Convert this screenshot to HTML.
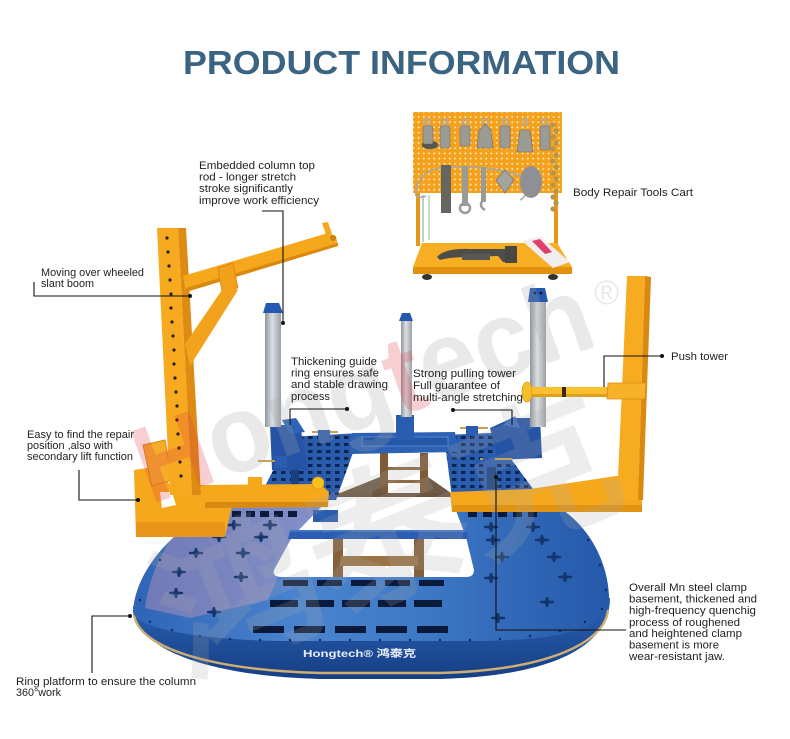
<!DOCTYPE html>
<html><head><meta charset="utf-8"><style>
html,body{margin:0;padding:0;background:#fff;}
svg{display:block}
text{font-family:"Liberation Sans",Arial,sans-serif;}
</style></head><body>
<svg width="790" height="739" viewBox="0 0 790 739" xmlns="http://www.w3.org/2000/svg">
<defs>
 <linearGradient id="col" x1="0" x2="1" y1="0" y2="0">
  <stop offset="0" stop-color="#8f959b"/><stop offset="0.45" stop-color="#dcdfe2"/><stop offset="1" stop-color="#9ca1a6"/>
 </linearGradient>
 <linearGradient id="plat" x1="0" x2="1" y1="0" y2="0">
  <stop offset="0" stop-color="#2f64b6"/><stop offset="0.35" stop-color="#4a84cf"/><stop offset="0.6" stop-color="#3e79c6"/><stop offset="1" stop-color="#2558aa"/>
 </linearGradient>
 <linearGradient id="skirt" x1="0" y1="0" x2="0" y2="1">
  <stop offset="0" stop-color="#2a62b4"/><stop offset="1" stop-color="#163f85"/>
 </linearGradient>
 <pattern id="holes" width="9" height="7" patternUnits="userSpaceOnUse"><rect x="2" y="2" width="4.5" height="3" fill="#0d2350"/></pattern>
 <pattern id="peg" width="5.2" height="5.2" patternUnits="userSpaceOnUse"><circle cx="2.6" cy="2.6" r="0.9" fill="#fff1c8"/></pattern>
 <path id="star" d="M-7,-1 L-2,-1.5 L-1,-5 L1,-5 L2,-1.5 L7,-1 L7,1 L2,1.5 L1,5 L-1,5 L-2,1.5 L-7,1Z" fill="#14356d"/>
</defs>

<!-- Title -->
<text x="183" y="74" font-size="33" font-weight="bold" fill="#3b6483" textLength="437" lengthAdjust="spacingAndGlyphs">PRODUCT INFORMATION</text>

<!-- ===== Tools cart ===== -->
<rect x="416" y="190" width="4" height="56" fill="#e8961a"/>
<rect x="554" y="190" width="4" height="56" fill="#e8961a"/>
<line x1="423" y1="195" x2="423" y2="242" stroke="#9aa" stroke-width="1.2"/>
<line x1="429" y1="195" x2="429" y2="240" stroke="#8b9" stroke-width="1"/>
<rect x="413" y="112" width="149" height="81" fill="#f4a11d"/>
<rect x="413" y="112" width="149" height="81" fill="url(#peg)"/>
<g fill="#9c9b93" stroke="#6d6c66" stroke-width="0.6">
 <circle cx="427" cy="122" r="3" fill="none" stroke="#aaa" stroke-width="1.5"/>
 <ellipse cx="430" cy="145" rx="8" ry="4" fill="#55534e"/>
 <rect x="423" y="126" width="10" height="18" rx="2"/>
 <circle cx="445" cy="122" r="3" fill="none" stroke="#aaa" stroke-width="1.5"/>
 <rect x="440" y="126" width="10" height="22" rx="2"/>
 <circle cx="465" cy="122" r="3" fill="none" stroke="#aaa" stroke-width="1.5"/>
 <rect x="460" y="126" width="10" height="20" rx="2"/>
 <circle cx="485" cy="122" r="3" fill="none" stroke="#aaa" stroke-width="1.5"/>
 <path d="M477,148 L479,130 L485,124 L491,130 L493,148 Z"/>
 <circle cx="505" cy="122" r="3" fill="none" stroke="#aaa" stroke-width="1.5"/>
 <rect x="500" y="126" width="10" height="22" rx="2"/>
 <circle cx="525" cy="122" r="3" fill="none" stroke="#aaa" stroke-width="1.5"/>
 <path d="M517,152 L520,130 L530,130 L533,152 Z"/>
 <circle cx="545" cy="122" r="3" fill="none" stroke="#aaa" stroke-width="1.5"/>
 <rect x="540" y="126" width="10" height="24" rx="2"/>
</g>
<path d="M416,192 Q418,168 450,167 Q500,166 525,178 Q530,195 520,200" fill="none" stroke="#a8a8a8" stroke-width="1.6"/>
<path d="M416,192 Q414,200 426,196" fill="none" stroke="#a8a8a8" stroke-width="1.6"/>
<rect x="441" y="165" width="10" height="48" fill="#66655f"/>
<rect x="462" y="166" width="6" height="40" fill="#9a9a97"/>
<circle cx="465" cy="208" r="5" fill="none" stroke="#9a9a97" stroke-width="2.5"/>
<rect x="481" y="167" width="5" height="35" fill="#9a9a97"/>
<path d="M483,200 q-5,6 2,10" fill="none" stroke="#9a9a97" stroke-width="2.5"/>
<path d="M505,170 L514,180 L505,193 L496,180 Z" fill="#a3a3a0" stroke="#777" stroke-width="0.8"/>
<ellipse cx="531" cy="182" rx="11" ry="16" fill="#8e9095"/>
<g fill="#b2964c">
 <circle cx="553" cy="125" r="2.6"/><circle cx="556" cy="131" r="2.6"/><circle cx="553" cy="137" r="2.6"/><circle cx="556" cy="143" r="2.6"/><circle cx="553" cy="149" r="2.6"/><circle cx="556" cy="155" r="2.6"/><circle cx="553" cy="161" r="2.6"/><circle cx="556" cy="167" r="2.6"/><circle cx="553" cy="173" r="2.6"/><circle cx="556" cy="179" r="2.6"/><circle cx="553" cy="185" r="2.6"/><circle cx="556" cy="191" r="2.6"/><circle cx="553" cy="197" r="2.6"/><circle cx="556" cy="203" r="2.6"/><circle cx="553" cy="209" r="2.6"/>
</g>
<polygon points="422,243 557,243 572,267 413,267" fill="#f7ae22"/>
<rect x="413" y="267" width="159" height="7" fill="#e2900f"/>
<ellipse cx="427" cy="277" rx="5" ry="3" fill="#333"/>
<ellipse cx="553" cy="277" rx="5" ry="3" fill="#333"/>
<path d="M437,257 Q445,248 470,249 L505,249 L510,262 L503,262 L498,256 L470,257 Q450,257 440,260 Z" fill="#4f4d4a"/>
<rect x="462" y="254" width="28" height="6" fill="#5a5855"/>
<rect x="505" y="246" width="12" height="17" fill="#4a4845"/>
<polygon points="522,241 540,236 570,262 553,268" fill="#f0eeee"/>
<polygon points="532,241 540,239 552,252 545,254" fill="#e0406a"/>

<!-- ===== Platform ===== -->
<path d="M133,606 C133,650 210,676 320,679 L440,679 C555,676 610,645 610,598 Z" fill="url(#skirt)"/>
<path d="M134,614 C138,648 210,670 320,673 L440,673 C550,670 605,642 608,610" fill="none" stroke="#cfae72" stroke-width="2.4"/>
<path d="M225,505 L555,505 C590,525 610,565 609,603 C606,628 565,640 480,641 L275,641 C195,639 136,628 133,612 C135,570 175,525 225,505 Z" fill="url(#plat)"/>
<path d="M200,508 L330,506 L292,545 L268,600 L190,618 L145,608 C150,570 170,530 200,508 Z" fill="#e8a0b8" opacity="0.35"/>
<text x="303" y="657" font-size="10" font-weight="bold" fill="#e6edf8" textLength="113" lengthAdjust="spacingAndGlyphs" font-family="Liberation Sans, Noto Sans CJK SC, sans-serif">Hongtech® 鸿泰克</text>
<path d="M328,500 L452,500 L466,537 L474,570 Q474,577 466,577 L282,577 Q272,577 274,570 L292,537 Z" fill="#ffffff"/>
<rect x="333" y="538" width="10" height="39" fill="#85603a"/>
<rect x="414" y="538" width="10" height="39" fill="#85603a"/>
<rect x="340" y="556" width="78" height="10" fill="#9b7445"/>
<polygon points="290,530 466,530 468,539 288,539" fill="#2a5db3"/>
<line x1="290" y1="531" x2="466" y2="531" stroke="#5b8ad6" stroke-width="1"/>
<g fill="#0b1a3a">
 <rect x="283" y="580" width="25" height="6"/><rect x="317" y="580" width="25" height="6"/><rect x="351" y="580" width="25" height="6"/><rect x="385" y="580" width="25" height="6"/><rect x="419" y="580" width="25" height="6"/>
 <rect x="270" y="600" width="28" height="7"/><rect x="306" y="600" width="28" height="7"/><rect x="342" y="600" width="28" height="7"/><rect x="378" y="600" width="28" height="7"/><rect x="414" y="600" width="28" height="7"/>
 <rect x="253" y="626" width="31" height="7"/><rect x="294" y="626" width="31" height="7"/><rect x="335" y="626" width="31" height="7"/><rect x="376" y="626" width="31" height="7"/><rect x="417" y="626" width="31" height="7"/>
 <rect x="232" y="511" width="9" height="6"/><rect x="246" y="511" width="9" height="6"/><rect x="260" y="511" width="9" height="6"/><rect x="274" y="511" width="9" height="6"/><rect x="288" y="511" width="9" height="6"/>
 <rect x="468" y="511" width="9" height="6"/><rect x="483" y="511" width="9" height="6"/><rect x="498" y="511" width="9" height="6"/><rect x="513" y="511" width="9" height="6"/><rect x="528" y="511" width="9" height="6"/>
</g>
<use href="#star" x="234" y="525"/><use href="#star" x="270" y="525"/><use href="#star" x="219" y="537"/><use href="#star" x="261" y="537"/>
<use href="#star" x="196" y="553"/><use href="#star" x="243" y="553"/><use href="#star" x="179" y="572"/><use href="#star" x="241" y="577"/>
<use href="#star" x="176" y="593"/><use href="#star" x="214" y="612"/>
<use href="#star" x="491" y="527"/><use href="#star" x="533" y="527"/><use href="#star" x="493" y="540"/><use href="#star" x="542" y="540"/>
<use href="#star" x="502" y="557"/><use href="#star" x="554" y="557"/><use href="#star" x="491" y="578"/><use href="#star" x="565" y="577"/>
<use href="#star" x="547" y="602"/><use href="#star" x="498" y="618"/>
<g fill="#0f2a5c">
 <circle cx="140" cy="600" r="1.2"/><circle cx="150" cy="622" r="1.2"/><circle cx="172" cy="630" r="1.2"/><circle cx="200" cy="636" r="1.2"/><circle cx="230" cy="639" r="1.2"/><circle cx="260" cy="640" r="1.2"/><circle cx="290" cy="640" r="1.2"/><circle cx="320" cy="640" r="1.2"/><circle cx="350" cy="640" r="1.2"/><circle cx="380" cy="640" r="1.2"/><circle cx="410" cy="640" r="1.2"/><circle cx="440" cy="640" r="1.2"/><circle cx="470" cy="640" r="1.2"/><circle cx="500" cy="639" r="1.2"/><circle cx="530" cy="636" r="1.2"/><circle cx="560" cy="631" r="1.2"/><circle cx="585" cy="622" r="1.2"/><circle cx="602" cy="609" r="1.2"/><circle cx="606" cy="590" r="1.2"/><circle cx="600" cy="565" r="1.2"/><circle cx="588" cy="540" r="1.2"/><circle cx="160" cy="560" r="1.2"/><circle cx="180" cy="535" r="1.2"/>
</g>

<!-- ===== Frame stand legs ===== -->
<rect x="380" y="453" width="8" height="42" fill="#7e5a36"/>
<rect x="420" y="453" width="8" height="42" fill="#7e5a36"/>
<rect x="388" y="467" width="32" height="3" fill="#8d6a40"/>
<rect x="388" y="480" width="32" height="3" fill="#8d6a40"/>
<polygon points="340,493 380,477 380,495" fill="#6f5a45"/>
<polygon points="428,477 451,493 428,495" fill="#6f5a45"/>
<rect x="335" y="493" width="117" height="4" fill="#6a5540"/>

<!-- ===== Frame benches ===== -->
<polygon points="290,437 360,433 336,500 258,500" fill="#2a5cae"/>
<polygon points="290,437 360,433 336,500 258,500" fill="url(#holes)"/>
<polygon points="444,435 492,433 536,493 452,498" fill="#2a5cae"/>
<polygon points="444,435 492,433 536,493 452,498" fill="url(#holes)"/>
<polygon points="352,433 455,432 458,452 350,454" fill="#2d61b3"/>
<rect x="362" y="437" width="86" height="9" fill="#2357a8" stroke="#5d8fd8" stroke-width="0.8"/>
<polygon points="270,425 300,425 308,470 272,470" fill="#2554a6"/>
<polygon points="282,420 296,418 305,432 290,434" fill="#2e64b8"/>
<polygon points="490,428 512,418 540,418 542,458 498,460" fill="#2554a6"/>
<polygon points="503,425 515,416 520,428" fill="#3a72c4"/>
<rect x="396" y="415" width="18" height="25" fill="#2a5cb0"/>
<g>
 <line x1="312" y1="432" x2="338" y2="432" stroke="#c8a050" stroke-width="2"/><rect x="318" y="430" width="12" height="10" fill="#2a5cb0"/>
 <line x1="460" y1="428" x2="488" y2="428" stroke="#c8a050" stroke-width="2"/><rect x="466" y="426" width="12" height="10" fill="#2a5cb0"/>
 <line x1="258" y1="461" x2="285" y2="461" stroke="#c8a050" stroke-width="2"/><rect x="275" y="456" width="12" height="12" fill="#2a5cb0"/>
 <rect x="291" y="470" width="8" height="22" fill="#1a3f80"/>
 <line x1="480" y1="459" x2="512" y2="459" stroke="#c8a050" stroke-width="2"/><rect x="483" y="455" width="12" height="12" fill="#2a5cb0"/>
 <rect x="487" y="467" width="9" height="22" fill="#1a3f80"/>
 <rect x="313" y="510" width="25" height="12" fill="#2a5cb0"/>
</g>

<!-- ===== Columns ===== -->
<rect x="265" y="310" width="16" height="117" fill="url(#col)"/>
<polygon points="263,313 266,303 279,303 283,313" fill="#2558b0"/>
<rect x="401" y="320" width="11" height="97" fill="url(#col)"/>
<polygon points="399,321 402,313 410,313 413,321" fill="#2558b0"/>
<rect x="530" y="300" width="16" height="127" fill="url(#col)"/>
<polygon points="528,302 530,288 545,288 548,302" fill="#2558b0"/>
<circle cx="535" cy="293" r="1.3" fill="#111"/><circle cx="541" cy="293" r="1.3" fill="#111"/>

<!-- ===== Left orange tower ===== -->
<polygon points="134,470 160,466 172,490 225,488 232,506 225,537 136,537" fill="#f6a81d"/>
<polygon points="160,492 172,492 176,505 162,508" fill="#ffffff"/>
<polygon points="136,522 225,522 225,537 136,537" fill="#e8951a"/>
<polygon points="143,445 165,440 172,480 152,486" fill="#f5ad2a" stroke="#d98a10" stroke-width="1"/>
<polygon points="178,228 186,228 201,495 192,495" fill="#dd8b12"/>
<polygon points="157,228 178,228 192,495 170,495" fill="#f7aa1f"/>
<g fill="#222">
 <circle cx="167" cy="238" r="1.6"/><circle cx="168" cy="252" r="1.6"/><circle cx="169" cy="266" r="1.6"/><circle cx="170" cy="280" r="1.6"/><circle cx="171" cy="294" r="1.6"/><circle cx="171" cy="308" r="1.6"/><circle cx="172" cy="322" r="1.6"/><circle cx="173" cy="336" r="1.6"/><circle cx="174" cy="350" r="1.6"/><circle cx="174" cy="364" r="1.6"/><circle cx="175" cy="378" r="1.6"/><circle cx="176" cy="392" r="1.6"/><circle cx="177" cy="406" r="1.6"/><circle cx="177" cy="420" r="1.6"/><circle cx="178" cy="434" r="1.6"/><circle cx="179" cy="448" r="1.6"/><circle cx="180" cy="462" r="1.6"/><circle cx="181" cy="476" r="1.6"/>
</g>
<polygon points="183,276 328,233 336,236 338,246 186,292" fill="#f6a81d"/>
<polygon points="186,288 338,243 338,246 186,292" fill="#d98910"/>
<polygon points="322,223 328,222 332,234 326,235" fill="#f6a81d"/>
<circle cx="333" cy="238" r="3" fill="#c98010"/>
<polygon points="218,268 233,263 238,288 222,292" fill="#f3a01a" stroke="#d68610" stroke-width="0.8"/>
<polygon points="185,344 226,284 238,290 190,366" fill="#f3a31b"/>
<polygon points="200,485 320,484 329,492 328,507 205,508" fill="#f6a81d"/>
<polygon points="205,502 328,502 328,507 205,508" fill="#d98910"/>
<rect x="248" y="477" width="14" height="11" fill="#f6a81d"/>
<circle cx="318" cy="483" r="6" fill="#f7c21e" stroke="#d79a10" stroke-width="0.8"/>

<!-- ===== Right push tower ===== -->
<polygon points="450,492 530,489 616,476 642,476 642,512 452,512" fill="#f6a81d"/>
<polygon points="452,505 642,505 642,512 452,512" fill="#e19413"/>
<polygon points="627,276 645,276 638,500 617,500" fill="#f7ab20"/>
<polygon points="645,276 651,277 643,500 638,500" fill="#d98910"/>
<rect x="527" y="387" width="82" height="10" fill="#f8c02e"/>
<rect x="527" y="394" width="82" height="3" fill="#e0a01a"/>
<rect x="562" y="387" width="4" height="10" fill="#3a2a10"/>
<ellipse cx="527" cy="392" rx="5" ry="10" fill="#f5bf2a" stroke="#d79a10" stroke-width="0.8"/>
<polygon points="608,383 646,383 645,399 607,399" fill="#f8b22a" stroke="#d98a10" stroke-width="0.8"/>

<!-- ===== Watermark ===== -->
<g opacity="0.24">
 <text x="150" y="505" font-size="110" font-weight="bold" fill="#a8a8a8" transform="rotate(-19.6 150 505)" textLength="478" lengthAdjust="spacingAndGlyphs"><tspan fill="#e23a4a">H</tspan>ong<tspan fill="#e23a4a">t</tspan>ech</text>
 <text x="594" y="304" font-size="34" fill="#a8a8a8">®</text>
</g>
<g opacity="0.2">
 <text x="185" y="675" font-size="150" font-weight="bold" fill="#aaaaaa" transform="rotate(-22 185 675)" textLength="480" lengthAdjust="spacingAndGlyphs" font-family="Noto Sans CJK SC, WenQuanYi Zen Hei, sans-serif">鸿泰克</text>
</g>

<!-- ===== Leader lines ===== -->
<g fill="none" stroke="#111" stroke-width="1.1">
 <polyline points="262,211 283,211 283,323"/>
 <polyline points="34,282 34,296 190,296"/>
 <polyline points="290,425 290,409 347,409"/>
 <polyline points="79,470 79,500 138,500"/>
 <polyline points="604,387 604,356 662,356"/>
 <polyline points="512,425 512,410 453,410"/>
 <polyline points="496,477 496,630 626,630"/>
 <polyline points="92,673 92,616 130,616"/>
</g>
<g fill="#111">
 <circle cx="283" cy="323" r="2"/><circle cx="190" cy="296" r="2"/><circle cx="347" cy="409" r="2"/><circle cx="138" cy="500" r="2"/>
 <circle cx="662" cy="356" r="2"/><circle cx="453" cy="410" r="2"/><circle cx="496" cy="477" r="2"/><circle cx="130" cy="616" r="2"/>
</g>

<!-- ===== Labels ===== -->
<g font-size="11" fill="#222">
 <text x="199" y="169" textLength="116" lengthAdjust="spacingAndGlyphs">Embedded column top</text>
 <text x="199" y="180.5" textLength="97" lengthAdjust="spacingAndGlyphs">rod - longer stretch</text>
 <text x="199" y="192" textLength="94" lengthAdjust="spacingAndGlyphs">stroke significantly</text>
 <text x="199" y="204" textLength="120" lengthAdjust="spacingAndGlyphs">improve work efficiency</text>

 <text x="41" y="276" textLength="103" lengthAdjust="spacingAndGlyphs">Moving over wheeled</text>
 <text x="41" y="287" textLength="53" lengthAdjust="spacingAndGlyphs">slant boom</text>

 <text x="291" y="365" textLength="86" lengthAdjust="spacingAndGlyphs">Thickening guide</text>
 <text x="291" y="376.5" textLength="88" lengthAdjust="spacingAndGlyphs">ring ensures safe</text>
 <text x="291" y="388" textLength="97" lengthAdjust="spacingAndGlyphs">and stable drawing</text>
 <text x="291" y="400" textLength="39" lengthAdjust="spacingAndGlyphs">process</text>

 <text x="27" y="438" textLength="107" lengthAdjust="spacingAndGlyphs">Easy to find the repair</text>
 <text x="27" y="449" textLength="86" lengthAdjust="spacingAndGlyphs">position ,also with</text>
 <text x="27" y="460" textLength="106" lengthAdjust="spacingAndGlyphs">secondary lift function</text>

 <text x="573" y="196" textLength="120" lengthAdjust="spacingAndGlyphs">Body Repair Tools Cart</text>
 <text x="671" y="360" textLength="57" lengthAdjust="spacingAndGlyphs">Push tower</text>

 <text x="413" y="377" textLength="103" lengthAdjust="spacingAndGlyphs">Strong pulling tower</text>
 <text x="413" y="389" textLength="87" lengthAdjust="spacingAndGlyphs">Full guarantee of</text>
 <text x="413" y="401" textLength="110" lengthAdjust="spacingAndGlyphs">multi-angle stretching</text>

 <text x="629" y="591" textLength="118" lengthAdjust="spacingAndGlyphs">Overall Mn steel clamp</text>
 <text x="629" y="602.5" textLength="128" lengthAdjust="spacingAndGlyphs">basement, thickened and</text>
 <text x="629" y="614" textLength="127" lengthAdjust="spacingAndGlyphs">high-frequency quenchig</text>
 <text x="629" y="626" textLength="111" lengthAdjust="spacingAndGlyphs">process of roughened</text>
 <text x="629" y="637" textLength="113" lengthAdjust="spacingAndGlyphs">and heightened clamp</text>
 <text x="629" y="648.5" textLength="90" lengthAdjust="spacingAndGlyphs">basement is more</text>
 <text x="629" y="660" textLength="96" lengthAdjust="spacingAndGlyphs">wear-resistant jaw.</text>

 <text x="16" y="685" textLength="180" lengthAdjust="spacingAndGlyphs">Ring platform to ensure the column</text>
 <text x="16" y="696" textLength="45" lengthAdjust="spacingAndGlyphs">360°work</text>
</g>
</svg>
</body></html>
